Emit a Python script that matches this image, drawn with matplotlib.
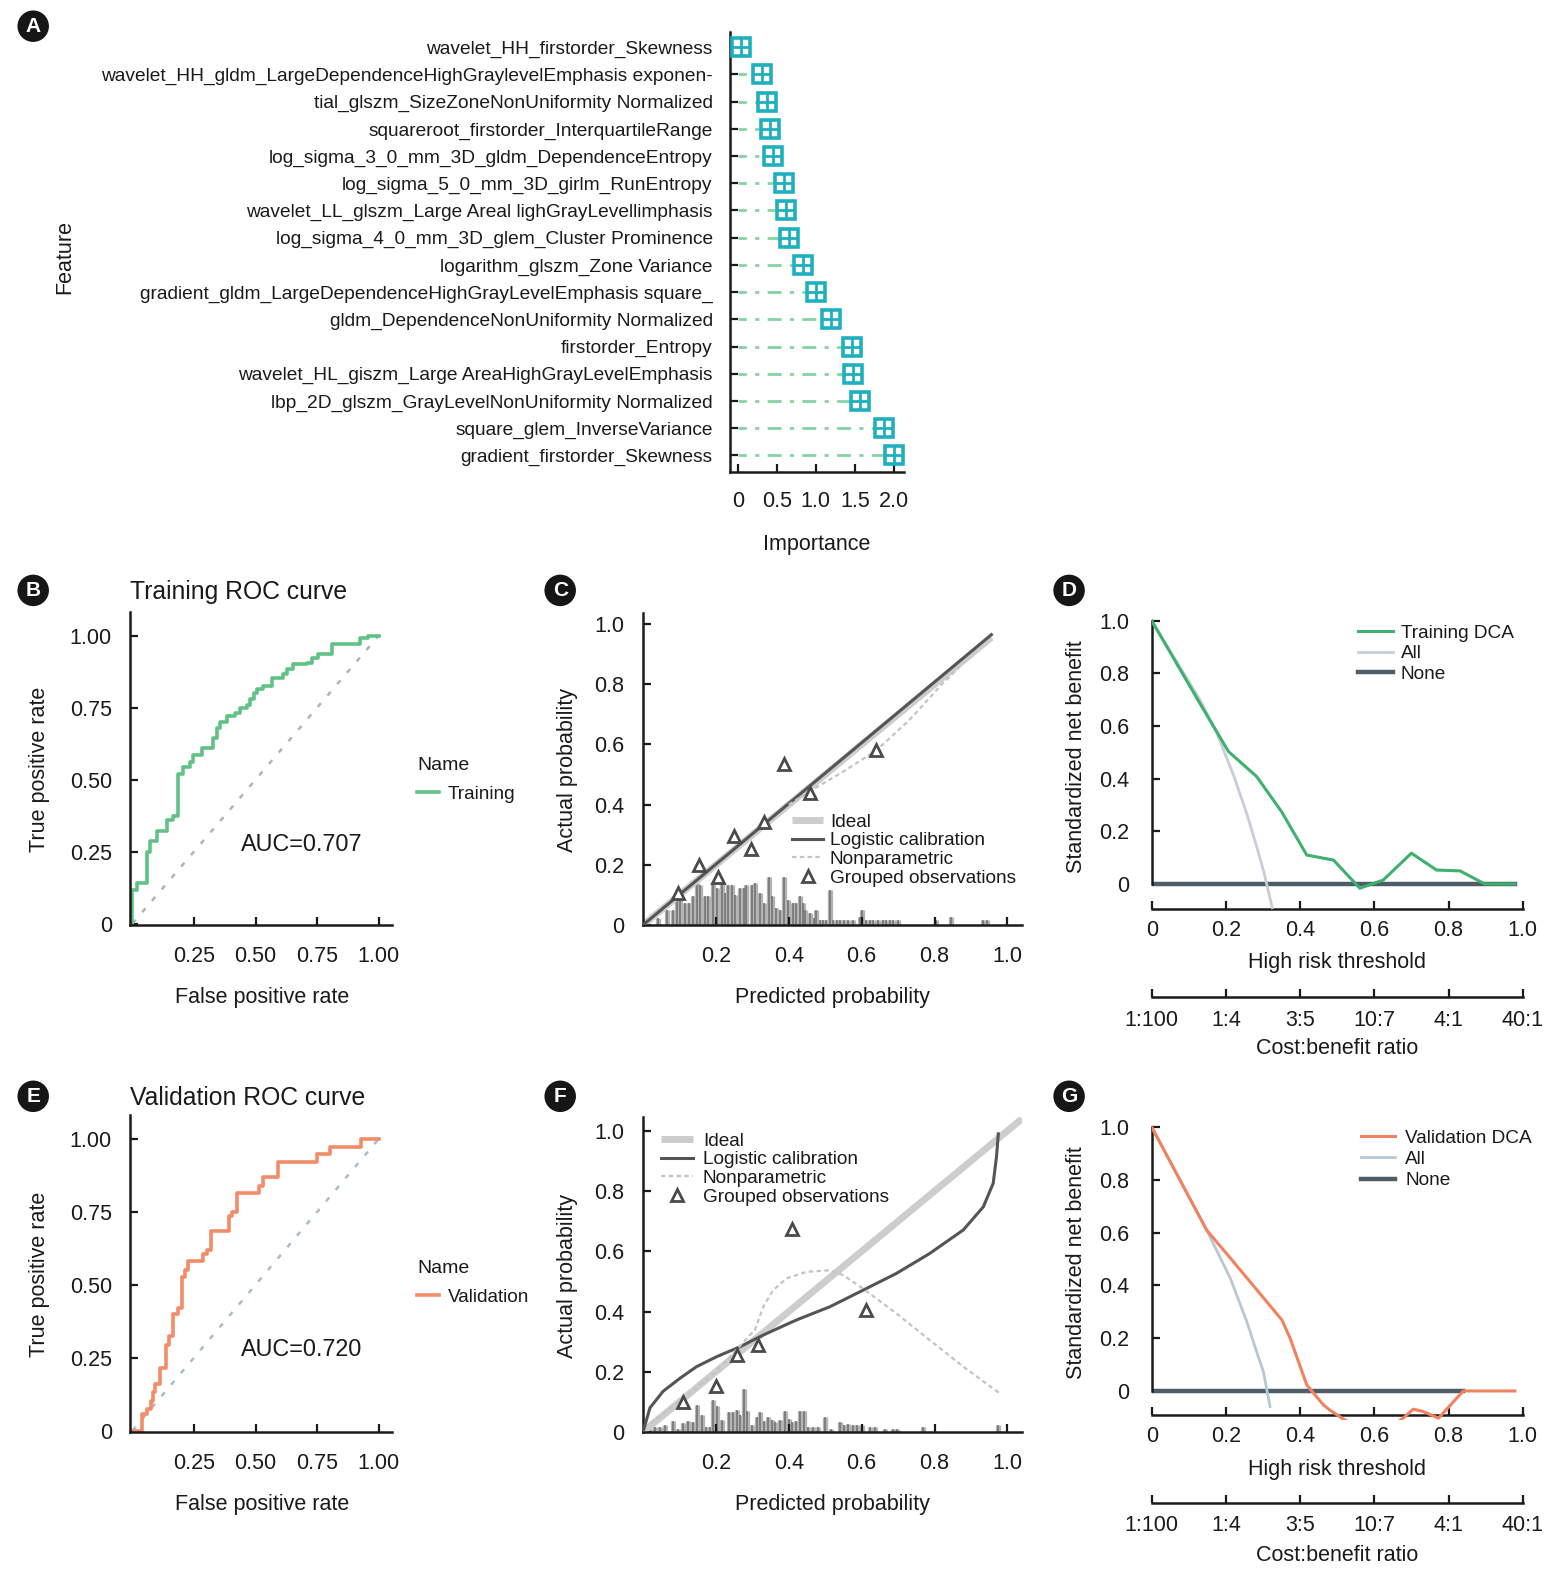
import matplotlib
matplotlib.use('Agg')
import matplotlib.pyplot as plt
import numpy as np

W, H = 1565, 1577
plt.rcParams['font.family'] = ['Liberation Sans', 'DejaVu Sans']
plt.rcParams['text.color'] = '#1a1a1a'

# ---------------- data ----------------
features = [
    'wavelet_HH_firstorder_Skewness',
    'wavelet_HH_gldm_LargeDependenceHighGraylevelEmphasis exponen-',
    'tial_glszm_SizeZoneNonUniformity Normalized',
    'squareroot_firstorder_InterquartileRange',
    'log_sigma_3_0_mm_3D_gldm_DependenceEntropy',
    'log_sigma_5_0_mm_3D_girlm_RunEntropy',
    'wavelet_LL_glszm_Large Areal lighGrayLevellimphasis',
    'log_sigma_4_0_mm_3D_glem_Cluster Prominence',
    'logarithm_glszm_Zone Variance',
    'gradient_gldm_LargeDependenceHighGrayLevelEmphasis square_',
    'gldm_DependenceNonUniformity Normalized',
    'firstorder_Entropy',
    'wavelet_HL_giszm_Large AreaHighGrayLevelEmphasis',
    'lbp_2D_glszm_GrayLevelNonUniformity Normalized',
    'square_glem_InverseVariance',
    'gradient_firstorder_Skewness',
]
importance = [0.04, 0.31, 0.38, 0.41, 0.45, 0.59, 0.62, 0.65, 0.84, 1.00,
              1.20, 1.46, 1.47, 1.57, 1.88, 2.00]

roc_train_fpr = [0, 0, 0.017, 0.058, 0.072, 0.099, 0.139, 0.166, 0.186, 0.207, 0.234,
                 0.247, 0.281, 0.328, 0.345, 0.356, 0.383, 0.417, 0.437, 0.464, 0.477,
                 0.495, 0.504, 0.531, 0.565, 0.613, 0.626, 0.653, 0.708, 0.728, 0.755,
                 0.81, 0.924, 0.958, 1.0]
roc_train_tpr = [0, 0.117, 0.14, 0.25, 0.285, 0.32, 0.36, 0.375, 0.52, 0.545, 0.56,
                 0.585, 0.61, 0.645, 0.68, 0.70, 0.72, 0.73, 0.748, 0.76, 0.78,
                 0.80, 0.815, 0.825, 0.853, 0.865, 0.885, 0.902, 0.905, 0.922, 0.936,
                 0.97, 0.99, 1.0, 1.0]
roc_val_fpr = [0, 0.04, 0.06, 0.075, 0.085, 0.09, 0.11, 0.136, 0.15, 0.166, 0.186, 0.2,
               0.213, 0.227, 0.288, 0.304, 0.318, 0.394, 0.405, 0.426, 0.515, 0.532,
               0.593, 0.748, 0.802, 0.927, 1.0]
roc_val_tpr = [0, 0.057, 0.075, 0.10, 0.132, 0.16, 0.215, 0.295, 0.325, 0.40, 0.42, 0.525,
               0.55, 0.58, 0.605, 0.62, 0.685, 0.736, 0.75, 0.815, 0.84, 0.87,
               0.92, 0.947, 0.972, 1.0, 1.0]
auc_train = 'AUC=0.707'
auc_val = 'AUC=0.720'

# calibration, training
cal_tr_ideal_x = [0, 0.956]
cal_tr_ideal_y = [0, 0.956]
cal_tr_logit_x = [0, 0.956]
cal_tr_logit_y = [0, 0.965]
cal_tr_np_x = [0.40, 0.458, 0.55, 0.64, 0.73, 0.82, 0.87]
cal_tr_np_y = [0.40, 0.445, 0.51, 0.58, 0.68, 0.80, 0.86]
cal_tr_grp_x = [0.097, 0.153, 0.206, 0.249, 0.295, 0.333, 0.387, 0.458, 0.638]
cal_tr_grp_y = [0.106, 0.20, 0.158, 0.296, 0.252, 0.344, 0.534, 0.44, 0.58]
cal_tr_spike_x = [0.042, 0.065, 0.083, 0.092, 0.101, 0.115, 0.127, 0.138, 0.149, 0.156,
                  0.170, 0.179, 0.193, 0.204, 0.216, 0.225, 0.234, 0.243, 0.252, 0.266,
                  0.277, 0.284, 0.298, 0.307, 0.321, 0.332, 0.346, 0.355, 0.366, 0.376,
                  0.387, 0.398, 0.412, 0.421, 0.430, 0.438, 0.444, 0.458, 0.469, 0.476,
                  0.485, 0.493, 0.502, 0.513, 0.520, 0.531, 0.540, 0.551, 0.563, 0.577,
                  0.595, 0.602, 0.613, 0.622, 0.632, 0.645, 0.659, 0.668, 0.677, 0.686,
                  0.700, 0.804, 0.844, 0.934, 0.943]
cal_tr_spike_h = [0.023, 0.05, 0.05, 0.106, 0.117, 0.073, 0.073, 0.095, 0.139, 0.134,
                  0.095, 0.095, 0.139, 0.123, 0.139, 0.106, 0.134, 0.134, 0.10, 0.123,
                  0.123, 0.134, 0.134, 0.139, 0.106, 0.073, 0.161, 0.095, 0.056, 0.05,
                  0.161, 0.084, 0.073, 0.073, 0.095, 0.073, 0.05, 0.04, 0.023, 0.05,
                  0.017, 0.017, 0.017, 0.117, 0.017, 0.017, 0.017, 0.017, 0.017, 0.017,
                  0.028, 0.05, 0.017, 0.017, 0.017, 0.017, 0.017, 0.017, 0.017, 0.017,
                  0.017, 0.017, 0.028, 0.017, 0.017]

# calibration, validation
cal_va_ideal_x = [0, 1.04]
cal_va_ideal_y = [0, 1.04]
cal_va_logit_x = [0, 0.019, 0.055, 0.101, 0.147, 0.202, 0.266, 0.33, 0.421, 0.513, 0.604,
                  0.696, 0.787, 0.879, 0.934, 0.961, 0.97, 0.975]
cal_va_logit_y = [0.0, 0.08, 0.135, 0.178, 0.217, 0.25, 0.283, 0.322, 0.372, 0.416, 0.471,
                  0.527, 0.593, 0.671, 0.748, 0.826, 0.914, 0.99]
cal_va_np_x = [0.02, 0.10, 0.20, 0.307, 0.33, 0.357, 0.394, 0.449, 0.513, 0.549, 0.604,
               0.696, 0.787, 0.879, 0.979]
cal_va_np_y = [0.03, 0.10, 0.20, 0.339, 0.416, 0.471, 0.51, 0.532, 0.537, 0.521, 0.476,
               0.393, 0.305, 0.217, 0.128]
cal_va_grp_x = [0.11, 0.199, 0.258, 0.316, 0.409, 0.611]
cal_va_grp_y = [0.10, 0.153, 0.256, 0.289, 0.673, 0.405]
cal_va_spike_x = [0.019, 0.033, 0.046, 0.06, 0.083, 0.097, 0.109, 0.124, 0.138, 0.149,
                  0.161, 0.174, 0.184, 0.191, 0.204, 0.216, 0.237, 0.246, 0.257, 0.266,
                  0.277, 0.286, 0.298, 0.312, 0.322, 0.332, 0.344, 0.353, 0.362, 0.376,
                  0.389, 0.401, 0.41, 0.419, 0.43, 0.441, 0.453, 0.467, 0.481, 0.5,
                  0.517, 0.54, 0.551, 0.563, 0.575, 0.586, 0.6, 0.622, 0.636, 0.664,
                  0.686, 0.696, 0.769, 0.975]
cal_va_spike_h = [0.011, 0.017, 0.017, 0.022, 0.035, 0.011, 0.031, 0.035, 0.033, 0.089,
                  0.055, 0.017, 0.017, 0.105, 0.086, 0.039, 0.066, 0.066, 0.072, 0.055,
                  0.144, 0.069, 0.022, 0.05, 0.066, 0.035, 0.05, 0.039, 0.033, 0.039,
                  0.069, 0.044, 0.033, 0.035, 0.069, 0.069, 0.017, 0.017, 0.017, 0.05,
                  0.011, 0.033, 0.022, 0.026, 0.022, 0.022, 0.022, 0.017, 0.017, 0.011,
                  0.011, 0.011, 0.017, 0.022]

# decision curves
dca_tr_x = [0, 0.13, 0.207, 0.283, 0.35, 0.418, 0.49, 0.561, 0.624, 0.70, 0.768, 0.831,
            0.898, 0.979]
dca_tr_y = [1.0, 0.686, 0.503, 0.408, 0.275, 0.11, 0.091, -0.016, 0.015, 0.117, 0.053,
            0.05, 0.0, 0.0]
dca_tr_all_x = [0, 0.13, 0.176, 0.222, 0.256, 0.283, 0.301, 0.325]
dca_tr_all_y = [1.0, 0.70, 0.572, 0.408, 0.268, 0.142, 0.053, -0.09]
dca_tr_none_x = [0, 0.98]
dca_tr_none_y = [0, 0]
dca_va_x = [0, 0.148, 0.22, 0.351, 0.373, 0.418, 0.463, 0.48, 0.517, 0.55, 0.65, 0.678,
            0.705, 0.732, 0.773, 0.84, 0.979]
dca_va_y = [1.0, 0.61, 0.49, 0.269, 0.2, 0.023, -0.053, -0.072, -0.107, -0.13, -0.13,
            -0.103, -0.069, -0.078, -0.103, 0.0, 0.0]
dca_va_all_x = [0, 0.148, 0.212, 0.256, 0.283, 0.301, 0.319]
dca_va_all_y = [1.0, 0.61, 0.427, 0.264, 0.148, 0.073, -0.059]
dca_va_none_x = [0, 0.84]
dca_va_none_y = [0, 0]

thr_ticks = [0, 0.2, 0.4, 0.6, 0.8, 1.0]
thr_labels = ['0', '0.2', '0.4', '0.6', '0.8', '1.0']
cost_labels = ['1:100', '1:4', '3:5', '10:7', '4:1', '40:1']

# ---------------- helpers ----------------
fig = plt.figure(figsize=(W / 100, H / 100), dpi=100)
INK = '#1a1a1a'
TICK = 15.5
LAB = 15.5
LEG = 13.7


def box(l, t, r, b):
    return [l / W, 1 - b / H, (r - l) / W, (b - t) / H]


def ftext(px, py, s, **kw):
    return fig.text(px / W, 1 - py / H, s, **kw)


def style(ax):
    for s in ['top', 'right']:
        ax.spines[s].set_visible(False)
    for s in ['left', 'bottom']:
        ax.spines[s].set_linewidth(1.8)
        ax.spines[s].set_color(INK)
    ax.tick_params(direction='in', length=6, width=1.6, color=INK,
                   labelsize=TICK, labelcolor=INK)
    ax.patch.set_alpha(0)


def badge(px, py, s):
    ftext(px, py, s, ha='center', va='center', color='white', fontsize=15,
          fontweight='bold', bbox=dict(boxstyle='circle,pad=0.3', fc='#161616', ec='none'))


def legend_at(ax, handles, labels, px, py, **kw):
    return ax.legend(handles, labels, loc='upper left', bbox_to_anchor=(px / W, 1 - py / H),
                     bbox_transform=fig.transFigure, frameon=False, fontsize=LEG,
                     borderpad=0, borderaxespad=0, **kw)


# ---------------- A: importance ----------------
axA = fig.add_axes(box(730, 31.7, 904, 471.7))
style(axA)
ypos = np.arange(len(features))
for y, v in zip(ypos, importance):
    axA.plot([0.0, v], [y, y], color='#86d3a2', lw=2, ls=(2, (5, 3, 1.5, 3)), zorder=1)
axA.plot(importance, ypos, 's', ms=13, mfc='white', mec='#1fb0bf', mew=2.6, zorder=3)
axA.plot(importance, ypos, '+', ms=13, mec='#1fb0bf', mew=2, zorder=4)
axA.set_xlim(-0.1, 2.13)
axA.set_ylim(15.6, -0.57)
axA.set_yticks(ypos)
axA.set_yticklabels(features, fontsize=13.8)
axA.set_xticks([0, 0.5, 1.0, 1.5, 2.0])
axA.set_xticklabels(['0', '0.5', '1.0', '1.5', '2.0'])
axA.tick_params(axis='y', pad=12.5)
axA.tick_params(axis='x', pad=14)
ftext(816.7, 544.1, 'Importance', ha='center', va='center', fontsize=LAB)
ftext(65, 256.5, 'Feature', ha='center', va='center', rotation=90, fontsize=LAB)
badge(33.2, 26.2, 'A')


# ---------------- ROC panels ----------------
def roc_panel(top, bottom, title_y, fpr, tpr, color, diag_color, auc, auc_y, title, name):
    ax = fig.add_axes(box(130, top, 392, bottom))
    style(ax)
    ax.plot([0, 1], [0, 1], color=diag_color, lw=1.8, ls=(0, (2, 4)))
    line, = ax.plot(fpr, tpr, drawstyle='steps-post', color=color, lw=2.6)
    ax.set_xlim(-0.01, 1.054)
    ax.set_ylim(-0.005, 1.082)
    ax.set_yticks([0, 0.25, 0.5, 0.75, 1.0])
    ax.set_yticklabels(['0', '0.25', '0.50', '0.75', '1.00'])
    ax.set_xticks([0.25, 0.5, 0.75, 1.0])
    ax.set_xticklabels(['0.25', '0.50', '0.75', '1.00'])
    ax.tick_params(axis='y', pad=13)
    ax.tick_params(axis='x', pad=15)
    ax.text(0.687, auc_y, auc, fontsize=16.8, ha='center', va='center')
    legend_at(ax, [line], [name], 417.4, top + 145, title='Name', title_fontsize=14,
              handlelength=1.16, handletextpad=0.42, alignment='left', labelspacing=0.6)
    ftext(129.7, title_y, title, ha='left', va='center', fontsize=17.8)
    mid = (top + bottom) / 2 + 1
    ftext(40, mid, 'True positive rate', ha='center', va='center', rotation=90, fontsize=LAB)
    ftext(262.5, bottom + 72.6, 'False positive rate', ha='center', va='center', fontsize=LAB)
    return ax


roc_panel(612, 925, 592.4, roc_train_fpr, roc_train_tpr, '#62c186', '#b3b3b3', auc_train,
          0.274, 'Training ROC curve', 'Training')
roc_panel(1115, 1432, 1098.3, roc_val_fpr, roc_val_tpr, '#f28c69', '#a9bccb', auc_val,
          0.279, 'Validation ROC curve', 'Validation')
badge(33.2, 590.4, 'B')
badge(33.2, 1096.3, 'E')


# ---------------- calibration panels ----------------
def cal_panel(top, bottom, ymax, ideal_x, ideal_y, logit_x, logit_y, np_x, np_y,
              grp_x, grp_y, spike_x, spike_h, leg_xy, hlen, hpad):
    ax = fig.add_axes(box(643, top, 1022, bottom))
    style(ax)
    ax.vlines(spike_x, 0, spike_h, color='#b4b4b4', lw=3.8, zorder=1)
    ax.vlines(spike_x, 0, spike_h, color='#707070', lw=1.1, zorder=1)
    l1, = ax.plot(ideal_x, ideal_y, color='#cdcdcd', lw=5, solid_capstyle='butt', zorder=2)
    l2, = ax.plot(logit_x, logit_y, color='#555555', lw=2.2, zorder=3)
    l3, = ax.plot(np_x, np_y, color='#c4c4c4', lw=1.6, ls=(0, (2, 1.5)), zorder=3)
    l4, = ax.plot(grp_x, grp_y, '^', ms=8, mfc='white', mec='#4a4a4a', mew=2, ls='none',
                  zorder=4)
    ax.set_xlim(0, 1.04)
    ax.set_ylim(0, ymax)
    ax.set_xticks([0.2, 0.4, 0.6, 0.8, 1.0])
    ax.set_xticklabels(['0.2', '0.4', '0.6', '0.8', '1.0'])
    ax.set_yticks([0, 0.2, 0.4, 0.6, 0.8, 1.0])
    ax.set_yticklabels(['0', '0.2', '0.4', '0.6', '0.8', '1.0'])
    ax.tick_params(axis='y', pad=13.5)
    ax.tick_params(axis='x', pad=15)
    legend_at(ax, [l1, l2, l3, l4],
              ['Ideal', 'Logistic calibration', 'Nonparametric', 'Grouped observations'],
              leg_xy[0], leg_xy[1], handlelength=hlen, handletextpad=hpad,
              labelspacing=0.07, numpoints=1)
    mid = (top + bottom) / 2 + 1
    ftext(568, mid, 'Actual probability', ha='center', va='center', rotation=90, fontsize=LAB)
    ftext(832.8, bottom + 72.6, 'Predicted probability', ha='center', va='center',
          fontsize=LAB)
    return ax


cal_panel(613, 925, 1.037, cal_tr_ideal_x, cal_tr_ideal_y, cal_tr_logit_x, cal_tr_logit_y,
          cal_tr_np_x, cal_tr_np_y, cal_tr_grp_x, cal_tr_grp_y, cal_tr_spike_x,
          cal_tr_spike_h, (792.3, 813.3), 1.63, 0.35)
cal_panel(1117, 1432, 1.046, cal_va_ideal_x, cal_va_ideal_y, cal_va_logit_x, cal_va_logit_y,
          cal_va_np_x, cal_va_np_y, cal_va_grp_x, cal_va_grp_y, cal_va_spike_x,
          cal_va_spike_h, (660.7, 1132.3), 1.72, 0.49)
badge(560.2, 590.4, 'C')
badge(560.2, 1096.3, 'F')


# ---------------- decision curve panels ----------------
def dca_panel(top, bottom, zero_px, spine_y, cost_loc, x, y, all_x, all_y, none_x, none_y,
              color, all_color, name, leg_xy, hpad, lspace):
    ax = fig.add_axes(box(1151.7, top, 1522.7, bottom))
    style(ax)
    l_none, = ax.plot(none_x, none_y, color='#4f5d68', lw=3.2, zorder=2)
    l_all, = ax.plot(all_x, all_y, color=all_color, lw=2, zorder=3)
    l_mod, = ax.plot(x, y, color=color, lw=2.2, zorder=4)
    ax.set_xlim(0, 1.0)
    ax.set_ylim(-0.11, 1.06)
    ax.spines['left'].set_bounds(0, 1)
    ax.spines['bottom'].set_position(('data', spine_y))
    ax.set_yticks([0, 0.2, 0.4, 0.6, 0.8, 1.0])
    ax.set_yticklabels(['0', '0.2', '0.4', '0.6', '0.8', '1.0'])
    ax.set_xticks(thr_ticks)
    ax.set_xticklabels(thr_labels)
    ax.tick_params(axis='y', pad=16)
    ax.tick_params(axis='x', pad=8)
    sec = ax.secondary_xaxis(cost_loc)
    sec.set_xticks(thr_ticks)
    sec.set_xticklabels(cost_labels)
    sec.tick_params(direction='in', length=6, width=1.6, color=INK, labelsize=TICK,
                    labelcolor=INK, pad=8.7)
    sec.spines['bottom'].set_linewidth(1.8)
    sec.spines['bottom'].set_color(INK)
    legend_at(ax, [l_mod, l_all, l_none], [name, 'All', 'None'], leg_xy[0], leg_xy[1],
              handlelength=1.8, handletextpad=hpad, labelspacing=lspace)
    mid = (top + zero_px) / 2 + 12
    ftext(1077, mid, 'Standardized net benefit', ha='center', va='center', rotation=90,
          fontsize=LAB)
    ftext(1336.7, zero_px + 78.5, 'High risk threshold', ha='center', va='center',
          fontsize=LAB)
    ftext(1336.7, zero_px + 164.5, 'Cost:benefit ratio', ha='center', va='center',
          fontsize=LAB)
    return ax


dca_panel(604.9, 913, 884, -0.096, -0.274, dca_tr_x, dca_tr_y, dca_tr_all_x, dca_tr_all_y,
          dca_tr_none_x, dca_tr_none_y, '#3fb06d', '#c9cdd8', 'Training DCA',
          (1358.3, 624.6), 0.44, 0.16)
dca_panel(1111.2, 1420, 1391, -0.091, -0.27, dca_va_x, dca_va_y, dca_va_all_x, dca_va_all_y,
          dca_va_none_x, dca_va_none_y, '#f0825f', '#b8c8d3', 'Validation DCA',
          (1360.7, 1129.6), 0.53, 0.2)
badge(1069.1, 590.4, 'D')
badge(1069.1, 1096.3, 'G')

fig.savefig('out.png', dpi=100)
